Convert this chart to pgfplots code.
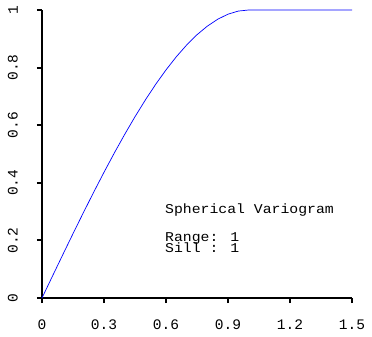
\documentclass[border=0pt]{standalone}
\usepackage{fontspec}
\setmainfont{Liberation Mono}
\newfontfamily\reffont[FakeStretch=1.1]{Liberation Mono}
\usepackage{pgfplots}
\pgfplotsset{compat=1.18}
\begin{document}
\begin{tikzpicture}
\begin{axis}[
  at={(0,0)}, anchor=south west,
  scale only axis, width=310bp, height=288bp,
  xmin=0, xmax=1.5, ymin=0, ymax=1,
  axis lines=left,
  axis line style={-, line width=2bp},
  tick style={line width=2bp, black},
  tick align=outside,
  major tick length=5bp,
  xtick={0,0.3,0.6,0.9,1.2,1.5},
  xticklabels={0,0.3,0.6,0.9,1.2,1.5},
  ytick={0,0.2,0.4,0.6,0.8,1},
  yticklabels={0,0.2,0.4,0.6,0.8,1},
  ticklabel style={font=\fontsize{14.6}{16}\selectfont},
  xticklabel style={inner sep=0pt, anchor=north, yshift=-17bp},
  yticklabel style={rotate=90, anchor=south, inner sep=0pt, yshift=19bp},
  clip=false,
]
\addplot[blue, line width=0.7bp] coordinates {
(0,0) (0.05,0.07494) (0.1,0.1495) (0.15,0.2233) (0.2,0.296) (0.25,0.3672)
(0.3,0.4365) (0.35,0.5036) (0.4,0.568) (0.45,0.6294) (0.5,0.6875)
(0.55,0.7418) (0.6,0.792) (0.65,0.8377) (0.7,0.8785) (0.75,0.9141)
(0.8,0.944) (0.85,0.9679) (0.9,0.9855) (0.95,0.9963) (1.0,1) (1.5,1)
};
\node[anchor=base west, inner sep=0pt, font=\reffont\fontsize{13.5}{15}\selectfont] at (axis cs:0.595,0.2934) {Spherical Variogram};
\node[anchor=base west, inner sep=0pt, font=\reffont\fontsize{13.5}{15}\selectfont] at (axis cs:0.595,0.1979) {Range: 1};
\node[anchor=base west, inner sep=0pt, font=\reffont\fontsize{13.5}{15}\selectfont] at (axis cs:0.595,0.1563) {Sill : 1};
\end{axis}
\pgfresetboundingbox
\useasboundingbox (-42bp,-39bp) rectangle (330bp,298bp);
\end{tikzpicture}
\end{document}
